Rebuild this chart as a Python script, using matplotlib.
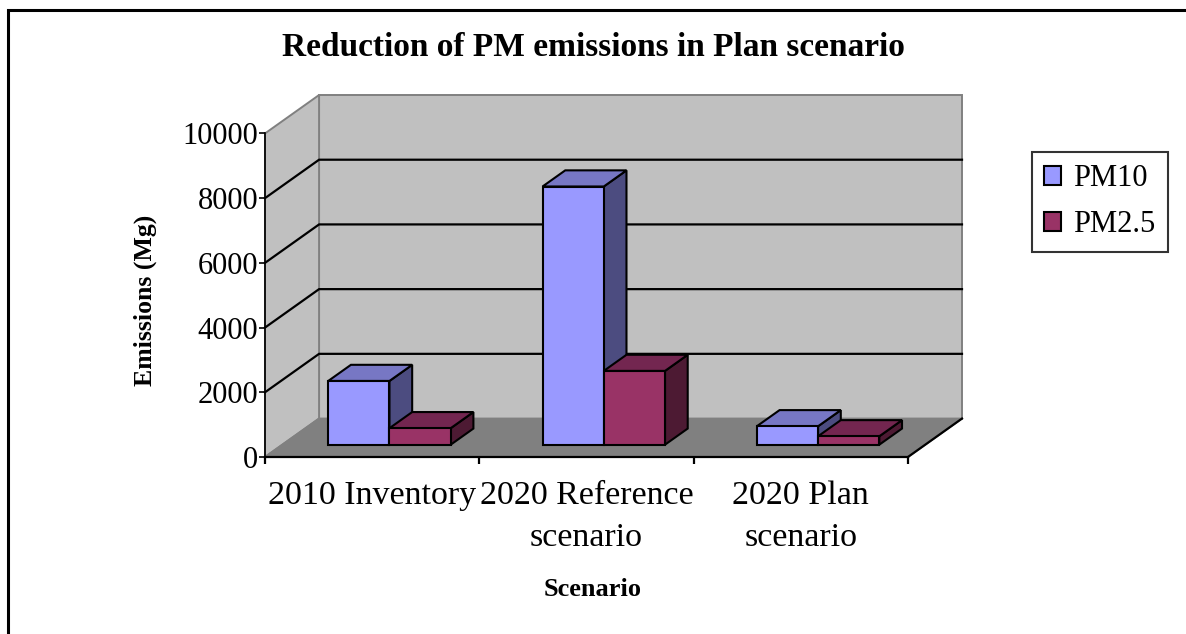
import matplotlib
matplotlib.use("Agg")
import matplotlib.pyplot as plt
from matplotlib.patches import Polygon, Patch, Rectangle

# Data
categories = ["2010 Inventory", "2020 Reference\nscenario", "2020 Plan\nscenario"]
series_names = ["PM10", "PM2.5"]
pm10 = [1970, 7980, 570]
pm25 = [510, 2280, 260]
y_ticks = [0, 2000, 4000, 6000, 8000, 10000]

# Colours (front, top, side) per series
face_colors = {
    "PM10": ("#9999FF", "#7777C4", "#4C4C80"),
    "PM2.5": ("#993366", "#732650", "#4D1A33"),
}
wall_color = "#C0C0C0"
floor_color = "#808080"
wall_edge = "#808080"

plt.rcParams["font.family"] = ["Liberation Serif", "DejaVu Serif"]

W, H = 1186, 634
fig = plt.figure(figsize=(W / 100, H / 100), dpi=100)
fig.patch.set_facecolor("white")

# Axes box: front plane plus the oblique depth offset
ax = fig.add_axes([265 / W, (H - 457) / H, (962 - 265) / W, (457 - 95) / H])
ymax = 10000
n = len(categories)
DX = 54 / 642 * n          # depth offset in category units
DY = 38.5 / 324 * ymax      # depth offset in value units
ax.set_xlim(0, n + DX)
ax.set_ylim(0, ymax + DY)
ax.set_facecolor("none")


def proj(x, v, d):
    """Oblique projection of (category x, value v, depth fraction d)."""
    return (x + d * DX, v + d * DY)


def poly(pts, fc, ec, lw, z):
    ax.add_patch(Polygon([proj(*p) for p in pts], closed=True, facecolor=fc,
                         edgecolor=ec, linewidth=lw, zorder=z, clip_on=False,
                         joinstyle="miter"))


# Walls and floor
poly([(0, 0, 1), (n, 0, 1), (n, ymax, 1), (0, ymax, 1)], wall_color, wall_edge, 1.4, 1)
poly([(0, 0, 0), (0, 0, 1), (0, ymax, 1), (0, ymax, 0)], wall_color, wall_edge, 1.4, 1)
poly([(0, 0, 0), (n, 0, 0), (n, 0, 1), (0, 0, 1)], floor_color, wall_edge, 1.4, 1)

# Gridlines on the back and side walls
for v in y_ticks[1:-1]:
    x0, y0 = proj(0, v, 0)
    x1, y1 = proj(0, v, 1)
    x2, y2 = proj(n, v, 1)
    ax.plot([x0, x1, x2], [y0, y1, y2], color="black", linewidth=1.6,
            zorder=2, clip_on=False, solid_joinstyle="miter")

# Right edge of the floor
fx0, fy0 = proj(n, 0, 0)
fx1, fy1 = proj(n, 0, 1)
ax.plot([fx0, fx1], [fy0, fy1], color="black", linewidth=1.6, zorder=3, clip_on=False)

# 3D bars
gap = 1.5
bar_w = 1 / (2 + gap)
d_front, d_back = 0.32, 0.74
for i in range(n):
    for j, (name, vals) in enumerate(zip(series_names, [pm10, pm25])):
        v = vals[i]
        x0 = i + gap * bar_w / 2 + j * bar_w
        x1 = x0 + bar_w
        front, top, side = face_colors[name]
        z = 5 + i * 3 + j
        poly([(x1, 0, d_front), (x1, 0, d_back), (x1, v, d_back), (x1, v, d_front)],
             side, "black", 1.5, z)
        poly([(x0, v, d_front), (x1, v, d_front), (x1, v, d_back), (x0, v, d_back)],
             top, "black", 1.5, z)
        poly([(x0, 0, d_front), (x1, 0, d_front), (x1, v, d_front), (x0, v, d_front)],
             front, "black", 1.5, z)

# Axes lines and ticks
for s in ["top", "right"]:
    ax.spines[s].set_visible(False)
ax.spines["left"].set_bounds(0, ymax)
ax.spines["bottom"].set_bounds(0, n)
ax.spines["left"].set_linewidth(1.2)
ax.spines["bottom"].set_linewidth(1.6)
ax.spines["left"].set_zorder(20)
ax.spines["bottom"].set_zorder(20)

ax.set_yticks(y_ticks)
ax.set_yticklabels([str(t) for t in y_ticks], fontsize=22)
ax.tick_params(axis="y", direction="out", length=4, width=1.2, pad=1)

ax.set_xticks(range(n + 1))
ax.set_xticklabels([""] * (n + 1))
ax.tick_params(axis="x", which="major", direction="out", length=5, width=1.6)
ax.set_xticks([i + 0.5 for i in range(n)], minor=True)
ax.set_xticklabels(categories, minor=True, fontsize=24.5, linespacing=1.5)
ax.tick_params(axis="x", which="minor", length=0, pad=17)

ax.set_xlabel("Scenario", fontsize=19, fontweight="bold")
ax.xaxis.set_label_coords((593 - 265) / 697, -(590 - 457) / 362)
ax.xaxis.label.set_va("center")
ax.set_ylabel("Emissions (Mg)", fontsize=18.5, fontweight="bold")
ax.yaxis.set_label_coords((145 - 265) / 697, (457 - 300) / 362)
ax.yaxis.label.set_va("center")

fig.text(593 / W, 1 - 48 / H, "Reduction of PM emissions in Plan scenario",
         ha="center", va="center", fontsize=24, fontweight="bold")

# Legend
handles = [Patch(facecolor=face_colors[s][0], edgecolor="black", linewidth=1.5)
           for s in series_names]
leg = fig.legend(handles, series_names, loc="upper left",
                 bbox_to_anchor=(1032 / W, 1 - 152 / H), borderaxespad=0,
                 fontsize=22, frameon=True, fancybox=False, shadow=False,
                 handlelength=0.55, handleheight=0.6, handletextpad=0.4,
                 labelspacing=0.56, borderpad=0.4)
leg.get_frame().set_edgecolor("black")
leg.get_frame().set_linewidth(1.5)

# Outer chart border
fig.add_artist(Rectangle((8 / W, -0.1), 1.2, 1.1 - 10 / H,
                         transform=fig.transFigure, fill=False,
                         edgecolor="black", linewidth=2.2))

fig.savefig("out.png", dpi=100)
